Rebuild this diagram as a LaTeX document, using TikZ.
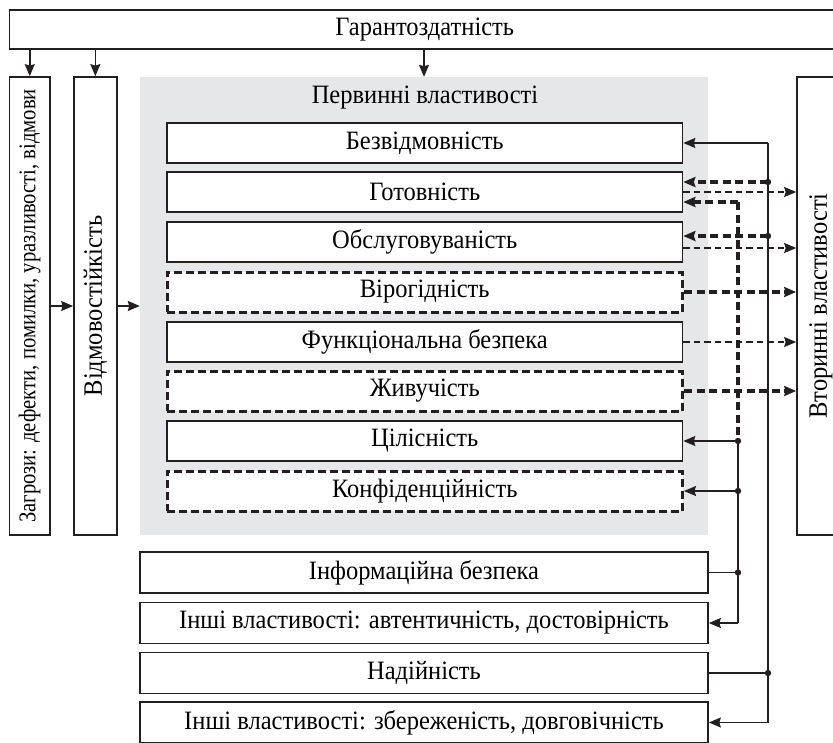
\documentclass[tikz,border=0pt]{standalone}
\usepackage{fontspec}
\setmainfont{Liberation Serif}
\newfontfamily\reffont[FakeStretch=0.925]{Liberation Serif}
\newfontfamily\narrowfont[FakeStretch=0.86]{Liberation Serif}
\usetikzlibrary{arrows.meta,calc}
\definecolor{ink}{RGB}{35,31,32}
\definecolor{panel}{RGB}{230,231,232}
\begin{document}
\begin{tikzpicture}[x=1pt,y=-1pt,
  txt/.style={font=\reffont\fontsize{26.5}{28}\selectfont},
  box/.style={draw=ink, fill=white, line width=1.7pt, inner sep=0pt, minimum height=40pt, txt},
  pbox/.style={box, minimum width=515.5pt},
  dbox/.style={pbox, line width=3pt, dash pattern=on 8pt off 4pt},
  lbox/.style={box, minimum width=568pt, minimum height=41pt},
  vbox/.style={box, rotate=90, minimum width=458pt},
  ln/.style={draw=ink, line width=1.6pt},
  tip/.style={-{Stealth[length=12pt,width=10pt,inset=1.5pt]}},
  arr/.style={ln, tip},
  thd/.style={draw=ink, line width=3.2pt, dash pattern=on 8pt off 4.5pt},
  tnd/.style={draw=ink, line width=1.6pt, dash pattern=on 6.5pt off 4pt},
  dot/.style={fill=ink}
]
\useasboundingbox (0,0) rectangle (833,742);
% top
\node[box, minimum width=830.5pt, minimum height=39.3pt] (top) at (424.75,29.65) {Гарантоздатність};
% panel
\node[fill=panel, inner sep=0pt, minimum width=568pt, minimum height=458pt] (gray) at (424,306) {};
\node[txt] (perv) at (425,98) {Первинні властивості};
% side boxes
\node[vbox, minimum height=40.5pt, font=\narrowfont\fontsize{24}{26}\selectfont] (zag) at (29.75,306) {Загрози: дефекти, помилки, уразливості, відмови};
\node[vbox, minimum height=42.7pt, font=\reffont\fontsize{26.5}{28}\selectfont] (vid) at (95.35,306) {Відмовостійкість};
\node[vbox, minimum height=48pt, font=\reffont\fontsize{26.5}{28}\selectfont] (vtor) at (821,306) {Вторинні властивості};
% primary properties
\node[pbox] (bez) at (424.75,143) {Безвідмовність};
\node[pbox] (got) at (424.75,192) {Готовність};
\node[pbox] (obs) at (424.75,242) {Обслуговуваність};
\node[dbox] (vir) at (424.75,292) {Вірогідність};
\node[pbox] (fun) at (424.75,342) {Функціональна безпека};
\node[dbox] (zhy) at (424.75,391) {Живучість};
\node[pbox] (cil) at (424.75,441) {Цілісність};
\node[dbox] (kon) at (424.75,491) {Конфіденційність};
% lower boxes
\node[lbox] (inf) at (424,572.5) {Інформаційна безпека};
\node[lbox] (ins1) at (424,623) {Інші властивості: автентичність, достовірність};
\node[lbox] (nad) at (424,673) {Надійність};
\node[lbox] (ins2) at (424,722.5) {Інші властивості: збереженість, довговічність};
% buses
\coordinate (busA) at (768,0);
\coordinate (busB) at (738,0);
\coordinate (gotIn1) at ($(got.east)+(0,-10)$);
\coordinate (gotOut) at (got.east);
\coordinate (gotIn2) at ($(got.east)+(0,10)$);
\coordinate (obsIn) at ($(obs.east)+(0,-6)$);
\coordinate (obsOut) at ($(obs.east)+(0,6)$);
% top arrows
\draw[arr] (top.south -| zag.east) -- (zag.east);
\draw[arr] (top.south -| vid.east) -- (vid.east);
\draw[arr] (top.south -| gray.north) -- (gray.north);
\draw[arr] (zag.south) -- (vid.north);
\draw[arr] (vid.south) -- (vid.south -| gray.west);
% outputs to secondary properties
\draw[tnd, tip] (gotOut) -- (gotOut -| vtor.north);
\draw[tnd, tip] (obsOut) -- (obsOut -| vtor.north);
\draw[thd, tip] (vir.east) -- (vir.east -| vtor.north);
\draw[tnd, tip] (fun.east) -- (fun.east -| vtor.north);
\draw[thd, tip] (zhy.east) -- (zhy.east -| vtor.north);
% information security bus
\draw[thd] (gotIn2 -| busB) -- (cil.east -| busB);
\draw[thd, tip] (gotIn2 -| busB) -- (gotIn2);
\draw[ln] (cil.east -| busB) -- (ins1.east -| busB);
\draw[arr] (cil.east -| busB) -- (cil.east);
\draw[arr] (kon.east -| busB) -- (kon.east);
\draw[ln] (inf.east) -- (inf.east -| busB);
\draw[arr] (ins1.east -| busB) -- (ins1.east);
\fill[dot] (cil.east -| busB) circle (3.2pt);
\fill[dot] (kon.east -| busB) circle (3.2pt);
\fill[dot] (inf.east -| busB) circle (3.2pt);
% reliability bus
\draw[ln] (bez.east -| busA) -- (ins2.east -| busA);
\draw[arr] (bez.east -| busA) -- (bez.east);
\draw[thd, tip] (gotIn1 -| busA) -- (gotIn1);
\draw[thd, tip] (obsIn -| busA) -- (obsIn);
\draw[ln] (nad.east) -- (nad.east -| busA);
\draw[arr] (ins2.east -| busA) -- (ins2.east);
\fill[dot] (gotIn1 -| busA) circle (3.2pt);
\fill[dot] (obsIn -| busA) circle (3.2pt);
\fill[dot] (nad.east -| busA) circle (3.2pt);
\end{tikzpicture}
\end{document}
